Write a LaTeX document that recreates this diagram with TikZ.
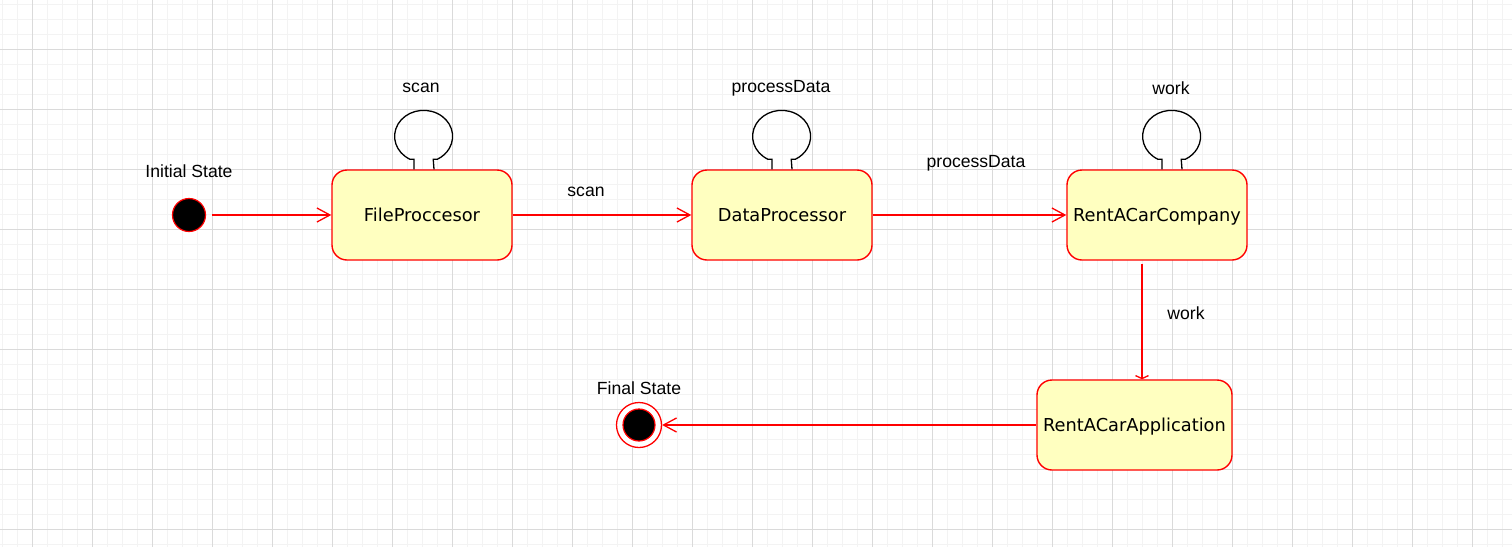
\documentclass[tikz,border=0pt]{standalone}
\usepackage{fontspec}
\setmainfont{Liberation Sans}
\newfontfamily\statefont{DejaVu Sans}
\usetikzlibrary{arrows.meta}
\definecolor{statefill}{HTML}{FFFFC0}
\definecolor{gridminor}{HTML}{F3F3F3}
\definecolor{gridmajor}{HTML}{DADADA}
\tikzset{
  statebox/.style={draw=red, fill=statefill, line width=1.4pt, rounded corners=15pt,
    minimum width=180pt, minimum height=90pt, inner sep=0pt, text height=16.5pt, text depth=3pt,
    font=\statefont\fontsize{17.8}{20}\selectfont},
  lbl/.style={font=\fontsize{17.6}{20}\selectfont, inner sep=0pt},
  trans/.style={draw=red, line width=1.3pt, -{Straight Barb[length=13pt,width=14pt,line width=1.3pt]}},
  loopline/.style={draw=black, line width=1.3pt},
}
\newcommand\mkselfloop[2]{% node, x offset
  \draw[loopline] ([xshift=#2pt-10pt]#1.north) -- ++(0,-10) -- ++(-4,0)
    arc[start angle=118, end angle=422, x radius=29, y radius=26] -- ++(-4,0)
    -- ([xshift=#2pt+10pt]#1.north);}
\begin{document}
\begin{tikzpicture}[x=1pt,y=-1pt]
\useasboundingbox (0,0) rectangle (1512,547);
\fill[white] (0,0) rectangle (1512,547);
% grid
\foreach \x in {2,17,...,1512} \draw[gridminor, line width=1pt] (\x,0) -- (\x,547);
\foreach \y in {4,19,...,547} \draw[gridminor, line width=1pt] (0,\y) -- (1512,\y);
\foreach \x in {32,92,...,1512} \draw[gridmajor, line width=1pt] (\x,0) -- (\x,547);
\foreach \y in {49,109,...,547} \draw[gridmajor, line width=1pt] (0,\y) -- (1512,\y);

% states
\node[statebox] (fp) at (422,215) {FileProccesor};
\node[statebox] (dp) at (782,215) {DataProcessor};
\node[statebox] (rc) at (1157,215) {RentACarCompany};
\node[statebox, minimum width=195pt] (ra) at (1134.5,425) {RentACarApplication};

% initial and final
\node[circle, fill=black, draw=red, line width=1.2pt, minimum size=33pt, inner sep=0pt] (init) at (189,215) {};
\node[lbl] (initlbl) at (189,171) {Initial State};
\node[circle, fill=white, draw=red, line width=1.3pt, minimum size=45pt, inner sep=0pt] (fin) at (639,425) {};
\node[circle, fill=black, draw=red, line width=1.2pt, minimum size=32pt, inner sep=0pt] (finin) at (639,425) {};
\node[lbl] (finlbl) at (639,388) {Final State};

% self loops
\mkselfloop{fp}{2}
\mkselfloop{dp}{0}
\mkselfloop{rc}{15}
\node[lbl] (fploop) at (421,88) {scan};
\node[lbl] (dploop) at (781,88) {processData};
\node[lbl] (rcloop) at (1171,88) {work};

% transitions
\draw[trans, shorten <=6pt] (init) -- (fp);
\draw[trans] (fp) -- (dp);
\draw[trans] (dp) -- (rc);
\draw[draw=red, line width=1.3pt, -{Straight Barb[length=3pt,width=13pt,line width=1.3pt]}]
  ([xshift=-15pt,yshift=-3pt]rc.south) -- ([xshift=-15pt]rc.south |- ra.north);
\draw[trans] (ra) -- (fin);
\node[lbl] (l1) at (586,192) {scan};
\node[lbl] (l2) at (976,163) {processData};
\node[lbl] (l3) at (1186,313) {work};
\end{tikzpicture}
\end{document}
